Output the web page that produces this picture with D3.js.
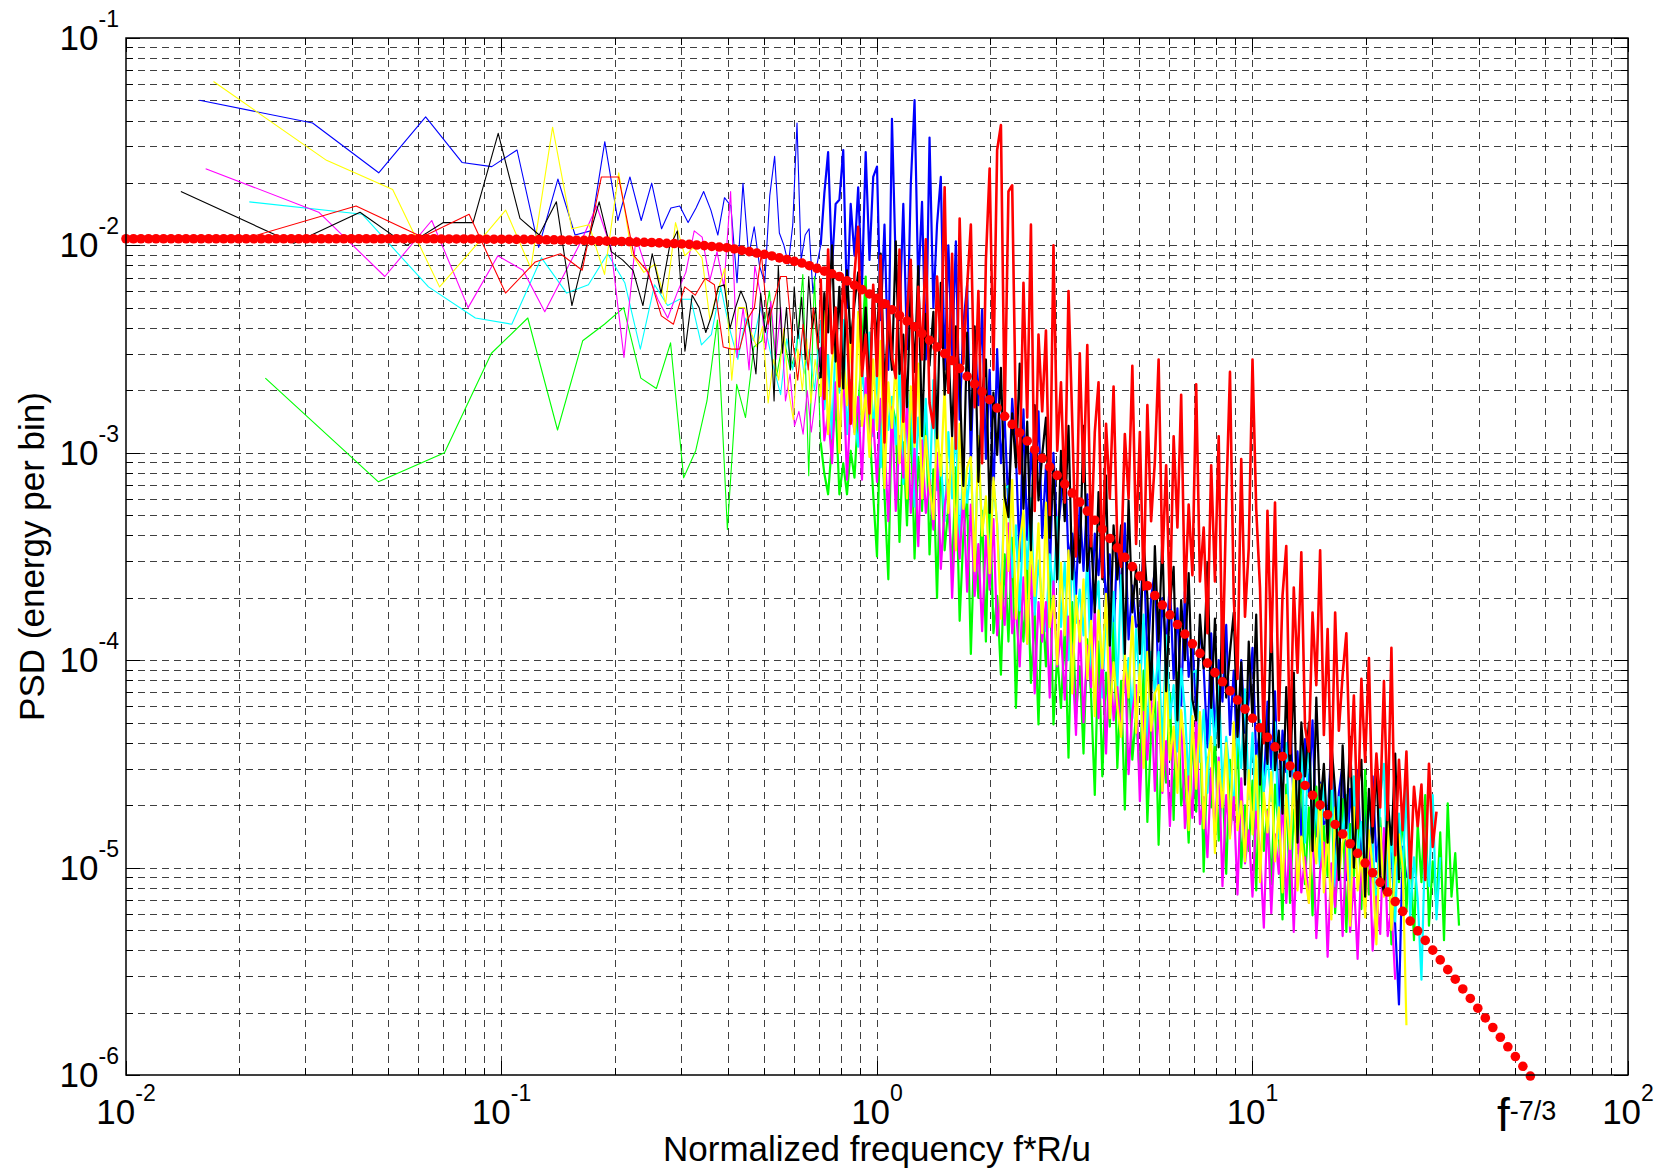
<!DOCTYPE html>
<html>
<head>
<meta charset="utf-8">
<script src="https://cdn.jsdelivr.net/npm/d3@7"></script>
<style>
body { margin: 0; background: #fff; }
text { font-family: 'Liberation Sans', Arial, Helvetica, sans-serif; fill: #000; }
</style>
</head>
<body>
<div id="chart"></div>
<script>
/* Tick exponents (labels are 10^n) */
var xTickExp = [-2, -1, 0, 1, 2];
var yTickExp = [-6, -5, -4, -3, -2, -1];

/* Low frequency bins of each trace: [frequency, log10(PSD)] */
var blueLow = [[0.0157,-1.30],[0.0314,-1.41],[0.0471,-1.65],[0.0628,-1.38],[0.0785,-1.60],[0.0942,-1.62],[0.110,-1.54],[0.1256,-2.01],[0.1413,-1.68],[0.157,-1.95],[0.1727,-1.93],[0.1884,-1.50],[0.2041,-1.88],[0.2198,-1.67],[0.2355,-1.88],[0.2512,-1.70],[0.2669,-1.92],[0.2826,-1.82],[0.2983,-1.81],[0.314,-1.89],[0.3297,-1.82],[0.3454,-1.74],[0.3611,-1.83],[0.3768,-1.95],[0.3925,-1.77],[0.4082,-1.81],[0.4239,-2.18],[0.4396,-1.70],[0.4553,-2.05],[0.471,-1.91],[0.4867,-2.10],[0.5024,-2.18],[0.5181,-1.76],[0.5338,-1.57],[0.5495,-1.94],[0.5652,-2.00],[0.5809,-2.09],[0.5966,-1.90],[0.6123,-1.41],[0.628,-2.07],[0.6437,-1.95],[0.6594,-1.92],[0.6751,-2.23],[0.6908,-2.10]];
var redLow = [[0.0205,-1.97],[0.041,-1.81],[0.0615,-1.96],[0.082,-1.85],[0.1025,-2.23],[0.123,-2.08],[0.1435,-2.04],[0.164,-2.12],[0.1845,-1.67],[0.205,-1.67],[0.2255,-2.05],[0.246,-2.13],[0.2665,-2.34],[0.287,-2.38],[0.3075,-2.20],[0.328,-2.24],[0.3485,-2.16],[0.369,-2.19],[0.3895,-2.49],[0.41,-2.50],[0.4305,-2.50],[0.451,-2.36],[0.4715,-2.30],[0.492,-2.04],[0.5125,-2.38],[0.533,-2.26],[0.5535,-2.15],[0.574,-2.15],[0.5945,-2.44],[0.615,-2.65],[0.6355,-2.38],[0.656,-2.60],[0.6765,-2.30],[0.697,-2.50]];
var blackLow = [[0.014,-1.74],[0.028,-1.99],[0.042,-1.84],[0.056,-2.00],[0.07,-1.89],[0.084,-1.89],[0.098,-1.46],[0.112,-1.87],[0.126,-1.95],[0.14,-1.79],[0.154,-2.29],[0.168,-2.01],[0.182,-1.79],[0.196,-2.03],[0.21,-2.07],[0.224,-2.12],[0.238,-2.29],[0.252,-2.04],[0.266,-2.23],[0.28,-2.01],[0.294,-1.93],[0.308,-2.51],[0.322,-2.24],[0.336,-2.30],[0.35,-2.42],[0.364,-2.33],[0.378,-2.20],[0.392,-2.19],[0.406,-2.40],[0.42,-2.30],[0.434,-2.22],[0.448,-2.28],[0.462,-2.45],[0.476,-2.62],[0.49,-2.23],[0.504,-2.42],[0.518,-2.30],[0.532,-2.75],[0.546,-2.10],[0.56,-2.52],[0.574,-2.30],[0.588,-2.60],[0.602,-2.20],[0.616,-2.45],[0.63,-2.25],[0.644,-2.55],[0.658,-2.15],[0.672,-2.40],[0.686,-2.30]];
var yellowLow = [[0.0171,-1.21],[0.0342,-1.59],[0.0513,-1.73],[0.0684,-2.20],[0.0855,-2.00],[0.1026,-1.83],[0.1197,-2.11],[0.1368,-1.43],[0.1539,-1.92],[0.171,-1.90],[0.1881,-2.14],[0.2052,-1.65],[0.2223,-2.04],[0.2394,-2.13],[0.2565,-2.09],[0.2736,-2.28],[0.2907,-1.89],[0.3078,-2.05],[0.3249,-2.01],[0.342,-2.06],[0.3591,-2.36],[0.3762,-2.22],[0.3933,-2.11],[0.4104,-2.65],[0.4275,-2.30],[0.4446,-2.30],[0.4617,-2.42],[0.4788,-2.49],[0.4959,-2.39],[0.513,-2.76],[0.5301,-2.55],[0.5472,-2.65],[0.5643,-2.40],[0.5814,-2.70],[0.5985,-2.84],[0.6156,-2.50],[0.6327,-2.70],[0.6498,-2.45],[0.6669,-2.76],[0.684,-2.55]];
var magentaLow = [[0.0163,-1.63],[0.0326,-1.84],[0.0489,-2.15],[0.0652,-1.88],[0.0815,-2.30],[0.0978,-2.05],[0.1141,-2.12],[0.1304,-2.32],[0.1467,-2.14],[0.163,-1.98],[0.1793,-1.81],[0.1956,-2.01],[0.2119,-2.54],[0.2282,-1.96],[0.2445,-2.13],[0.2608,-2.26],[0.2771,-2.35],[0.2934,-2.23],[0.3097,-2.13],[0.326,-1.93],[0.3423,-1.96],[0.3586,-2.17],[0.3749,-2.03],[0.3912,-2.20],[0.4075,-1.74],[0.4238,-2.54],[0.4401,-2.30],[0.4564,-2.60],[0.4727,-2.10],[0.489,-2.23],[0.5053,-2.50],[0.5216,-2.27],[0.5379,-2.55],[0.5542,-2.30],[0.5705,-2.75],[0.5868,-2.62],[0.6031,-2.87],[0.6194,-2.80],[0.6357,-2.91],[0.652,-2.70],[0.6683,-2.90],[0.6846,-2.75]];
var cyanLow = [[0.0213,-1.79],[0.0426,-1.85],[0.0639,-2.20],[0.0852,-2.35],[0.1065,-2.38],[0.1278,-2.06],[0.1491,-2.23],[0.1704,-2.19],[0.1917,-2.04],[0.213,-2.18],[0.2343,-2.50],[0.2556,-2.19],[0.2769,-2.29],[0.2982,-2.26],[0.3195,-2.26],[0.3408,-2.48],[0.3621,-2.43],[0.3834,-2.20],[0.4047,-2.40],[0.426,-2.55],[0.4473,-2.35],[0.4686,-2.46],[0.4899,-2.30],[0.5112,-2.45],[0.5325,-2.60],[0.5538,-2.72],[0.5751,-2.45],[0.5964,-2.60],[0.6177,-2.40],[0.639,-2.62],[0.6603,-2.50],[0.6816,-2.70]];
var greenLow = [[0.0235,-2.64],[0.047,-3.14],[0.0705,-3.00],[0.094,-2.52],[0.1175,-2.35],[0.141,-2.89],[0.1645,-2.46],[0.188,-2.38],[0.2115,-2.30],[0.235,-2.64],[0.2585,-2.69],[0.282,-2.47],[0.3055,-3.12],[0.329,-2.99],[0.3525,-2.75],[0.376,-2.36],[0.3995,-3.37],[0.423,-2.67],[0.4465,-2.83],[0.47,-2.49],[0.4935,-2.46],[0.517,-2.22],[0.5405,-2.63],[0.564,-2.44],[0.5875,-2.60],[0.611,-2.50],[0.6345,-2.14],[0.658,-3.11],[0.6815,-2.15]];

/* Higher frequencies, sampled on a shared frequency list */
var hiFreq = [0.708,0.724,0.741,0.759,0.776,0.794,0.813,0.832,0.851,0.871,0.891,0.912,0.933,0.955,0.977,
1,1.023,1.047,1.072,1.096,1.122,1.148,1.175,1.202,1.230,1.259,1.288,1.318,1.349,1.380,1.413,1.445,1.479,1.514,1.549,1.585,1.622,1.660,1.698,1.738,1.778,1.820,1.862,1.905,1.950,1.995,2.042,2.089,2.138,2.188,2.239,2.291,2.344,2.399,2.455,2.512,2.570,2.630,2.692,2.754,2.818,2.884,2.951,3.020,3.090,3.162,3.236,3.311,3.388,3.467,3.548,3.631,3.715,3.802,3.890,3.981,4.074,4.169,4.266,4.365,4.467,4.571,4.677,4.786,4.898,5.012,5.129,5.248,5.370,5.495,5.623,5.754,5.888,6.026,6.166,6.310,6.457,6.607,6.761,6.918,7.079,7.244,7.413,7.586,7.762,7.943,8.128,8.318,8.511,8.710,8.913,9.120,9.333,9.550,9.772,
10,10.23,10.47,10.72,10.96,11.22,11.48,11.75,12.02,12.30,12.59,12.88,13.18,13.49,13.80,14.13,14.45,14.79,15.14,15.49,15.85,16.22,16.60,16.98,17.38,17.78,18.20,18.62,19.05,19.50,19.95,20.42,20.89,21.38,21.88,22.39,22.91,23.44,23.99,24.55,25.12,25.70,26.30,26.92,27.54,28.18,28.84,29.51,30.20,30.90,31.62,32.36,33.11,33.88,34.67,35.48];

/* log10(PSD) of each trace on hiFreq */
var blueHigh = [-2.00,-1.75,-1.55,-2.10,-1.80,-1.78,-1.54,-2.30,-1.80,-2.05,-1.72,-2.20,-1.55,-2.07,-1.67,
-1.62,-2.36,-1.90,-2.60,-1.39,-2.10,-2.36,-1.80,-2.50,-1.71,
-1.30,-2.20,-1.79,-2.55,-1.48,-2.30,-1.90,-1.67,-2.60,-2.00,
-2.53,-1.98,-2.84,-2.38,-2.19,-3.05,-2.41,-2.77,-2.31,-3.03,
-2.60,-3.23,-2.50,-3.05,-2.84,-3.27,-2.74,-3.01,-3.52,-2.79,
-3.42,-2.99,-3.22,-2.80,-3.41,-3.06,-3.60,-3.00,-3.41,-3.23,
-2.99,-3.52,-3.39,-3.68,-3.25,-3.57,-3.20,-3.82,-3.39,-3.59,
-3.31,-3.75,-3.49,-3.90,-3.43,-3.69,-3.34,-3.90,-3.64,-3.84,
-3.82,-3.45,-4.01,-3.70,-3.57,-4.13,-3.70,-3.93,-3.62,-4.09,
-3.75,-4.22,-3.67,-4.08,-3.92,-4.24,-3.84,-4.04,-4.42,-3.87,
-4.37,-4.00,-4.20,-3.83,-4.36,-4.05,-4.52,-4.00,-4.35,-4.19,
-3.94,-4.47,-4.34,-4.63,-4.20,-4.52,-4.15,-4.77,-4.34,-4.54,
-4.26,-4.70,-4.44,-4.85,-4.38,-4.64,-4.29,-4.85,-4.59,-4.79,
-4.77,-4.40,-4.95,-4.64,-4.50,-5.06,-4.62,-4.85,-4.53,-5.00,
-4.65,-5.12,-4.56,-4.97,-4.80,-5.12,-4.71,-4.91,-5.28,-5.66,
-4.90,-5.05];
var redHigh = [-2.16,-2.74,-2.02,-2.52,-2.30,-2.68,-2.16,-2.39,-2.86,-2.14,-1.91,-2.63,-2.43,-2.81,-2.19,
-2.63,-2.05,-2.95,-2.27,-2.54,-2.64,-2.02,-2.85,-2.33,-2.07,
-2.95,-2.20,-2.55,-1.97,-2.76,-2.88,-2.15,-2.49,-1.72,-2.71,
-2.04,-2.98,-1.87,-2.57,-2.20,-1.90,-2.78,-2.22,-3.05,-2.07,
-1.63,-2.60,-1.54,-1.42,-2.83,-1.74,-1.71,-2.86,-3.10,-2.18,
-2.83,-1.90,-3.28,-2.43,-2.80,-2.41,-3.30,-2.00,-2.99,-2.66,
-3.24,-2.22,-2.85,-3.50,-2.52,-3.14,-2.48,-3.45,-2.90,-2.66,
-3.60,-2.86,-3.22,-2.68,-3.44,-3.55,-2.91,-3.22,-2.58,-3.44,
-2.90,-3.66,-2.77,-3.33,-3.04,-2.55,-3.53,-3.06,-3.75,-2.92,
-3.36,-2.72,-3.72,-3.25,-3.59,-2.67,-3.62,-3.36,-3.87,-3.06,
-3.62,-2.92,-4.06,-3.24,-2.61,-3.70,-4.09,-3.03,-3.79,-3.46,
-2.55,-3.27,-3.65,-4.40,-3.28,-3.96,-3.24,-4.29,-3.69,-3.45,
-4.45,-3.65,-4.06,-3.48,-4.32,-4.44,-3.77,-4.12,-3.47,-4.36,
-3.85,-4.62,-3.77,-4.34,-4.07,-3.87,-4.56,-4.17,-4.81,-4.09,
-4.49,-3.99,-4.80,-4.45,-4.71,-4.10,-4.77,-3.94,-4.94,-4.48,
-4.82,-4.44,-5.05,-4.61,-4.80,-4.60,-5.06,-4.50,-4.90,-4.73];
var blackHigh = [-2.64,-2.23,-2.42,-2.00,-2.56,-2.20,-2.69,-2.12,-2.47,-2.28,-2.13,-2.58,-2.30,-2.72,-2.21,
-2.47,-2.04,-2.69,-2.37,-2.60,-1.98,-2.62,-2.43,-2.78,-2.20,
-2.61,-2.10,-2.92,-2.33,-2.58,-2.32,-2.93,-2.18,-2.72,-2.49,
-2.92,-2.39,-2.65,-3.16,-2.42,-2.89,-2.39,-3.14,-2.72,-2.55,
-3.29,-2.71,-3.01,-2.59,-3.21,-3.31,-2.81,-3.07,-2.57,-3.27,
-2.85,-3.47,-2.77,-3.23,-3.01,-2.83,-3.41,-3.07,-3.61,-2.99,
-3.33,-2.87,-3.61,-3.27,-3.53,-2.87,-3.57,-3.39,-3.77,-3.19,
-3.61,-3.11,-3.93,-3.35,-3.61,-3.35,-3.97,-3.23,-3.77,-3.55,
-3.97,-3.43,-3.69,-4.19,-3.45,-3.91,-3.41,-4.15,-3.73,-3.55,
-4.29,-3.71,-4.00,-3.58,-4.19,-4.29,-3.78,-4.04,-3.53,-4.23,
-3.80,-4.42,-3.72,-4.18,-3.96,-3.77,-4.37,-4.01,-4.60,-3.91,
-4.29,-3.78,-4.60,-4.22,-4.50,-3.78,-4.53,-4.34,-4.74,-4.13,
-4.56,-4.06,-4.88,-4.30,-4.56,-4.30,-4.92,-4.18,-4.72,-4.50,
-4.88,-4.40,-4.63,-5.06,-4.41,-4.81,-4.37,-5.00,-4.64,-4.48,
-5.14,-4.62,-4.88,-4.50,-5.04,-5.12,-4.67,-4.89,-4.45,-5.06];
var yellowHigh = [-2.73,-2.32,-2.91,-2.57,-2.42,-3.00,-2.53,-2.77,-2.42,-2.91,-2.32,-2.87,-2.72,-3.02,-2.55,
-2.89,-2.46,-3.17,-2.66,-2.88,-2.55,-3.05,-2.76,-3.22,-2.68,
-2.97,-2.57,-3.22,-2.92,-3.16,-3.32,-2.88,-3.11,-2.68,-3.29,
-2.92,-3.47,-2.86,-3.27,-3.07,-3.02,-3.57,-2.92,-3.40,-3.21,
-3.58,-3.12,-3.35,-3.80,-3.15,-3.57,-3.13,-3.80,-3.43,-3.28,
-3.92,-3.43,-3.69,-3.34,-3.87,-3.24,-3.84,-3.69,-4.02,-3.53,
-3.88,-3.47,-4.16,-3.69,-3.91,-3.61,-4.09,-3.81,-4.27,-3.76,
-4.04,-3.68,-4.28,-4.01,-4.22,-4.37,-3.97,-4.18,-3.79,-4.35,
-4.02,-4.52,-3.96,-4.34,-4.16,-4.12,-4.63,-4.04,-4.48,-4.32,
-4.64,-4.24,-4.44,-4.82,-4.27,-4.62,-4.25,-4.81,-4.50,-4.37,
-4.93,-4.49,-4.71,-4.40,-4.86,-4.30,-4.82,-4.68,-4.97,-4.53,
-4.84,-4.46,-5.07,-4.64,-4.83,-4.54,-4.97,-4.71,-5.12,-4.65,
-4.91,-4.56,-5.11,-4.85,-5.04,-5.17,-4.79,-4.98,-4.60,-5.12,
-4.80,-5.25,-4.71,-5.05,-4.88,-4.83,-5.28,-4.71,-5.11,-4.94,
-5.24,-4.82,-5.01,-5.37,-4.81,-5.14,-4.76,-5.30,-4.99,-4.84,
-5.00,-5.76];
var magentaHigh = [-2.49,-2.94,-2.81,-3.05,-2.66,-2.93,-2.60,-3.13,-2.75,-2.90,-2.73,-3.13,-2.64,-2.99,-2.84,
-3.14,-2.74,-2.95,-3.33,-2.78,-3.28,-2.92,-3.12,-2.75,-3.29,
-2.98,-3.45,-2.94,-3.29,-3.13,-3.37,-3.00,-3.56,-3.26,-3.13,
-3.70,-3.27,-3.51,-3.20,-3.67,-3.25,-3.69,-3.44,-3.86,-3.40,
-3.66,-3.32,-3.88,-3.63,-3.83,-3.34,-3.87,-3.74,-4.03,-3.60,
-3.92,-3.54,-4.16,-3.72,-3.91,-3.72,-4.18,-3.62,-4.03,-3.86,
-4.19,-3.79,-3.98,-4.36,-3.81,-4.30,-3.93,-4.13,-3.75,-4.28,
-3.98,-4.45,-3.93,-4.29,-4.13,-4.36,-3.99,-4.55,-4.25,-4.12,
-4.68,-4.25,-4.48,-4.16,-4.63,-4.20,-4.64,-4.39,-4.80,-4.34,
-4.59,-4.25,-4.81,-4.56,-4.76,-4.27,-4.79,-4.66,-4.95,-4.52,
-4.84,-4.47,-5.09,-4.65,-4.85,-4.66,-5.13,-4.57,-4.98,-4.82,
-5.14,-4.73,-4.92,-5.29,-4.73,-5.22,-4.84,-5.03,-4.65,-5.17,
-4.85,-5.31,-4.78,-5.12,-4.95,-5.17,-4.79,-5.34,-5.02,-4.88,
-5.43,-4.98,-5.19,-4.89,-5.33,-4.88,-5.31,-5.05,-5.44,-4.97,
-5.21,-4.85,-5.40,-5.14,-5.32,-4.81,-5.33,-5.19,-5.54];
var cyanHigh = [-2.36,-2.79,-2.53,-2.93,-2.46,-2.71,-2.36,-2.91,-2.65,-2.84,-2.97,-2.59,-2.78,-2.42,-2.92,
-2.60,-3.07,-2.55,-2.89,-2.73,-2.96,-2.59,-3.15,-2.83,-2.70,
-3.26,-2.83,-3.05,-2.74,-3.20,-2.65,-3.18,-3.04,-3.33,-2.90,
-3.22,-2.85,-3.47,-3.04,-3.24,-3.05,-3.52,-2.97,-3.38,-3.22,
-3.54,-3.14,-3.34,-3.72,-3.17,-3.16,-3.60,-3.35,-3.76,-3.30,
-3.56,-3.22,-3.78,-3.52,-3.72,-3.86,-3.49,-3.69,-3.31,-3.84,
-3.53,-4.00,-3.47,-3.82,-3.66,-3.88,-3.51,-4.07,-3.75,-3.62,
-4.18,-3.75,-3.98,-3.67,-4.14,-3.59,-4.12,-3.99,-4.28,-3.85,
-4.15,-3.78,-4.39,-3.96,-4.16,-3.96,-4.43,-3.88,-4.28,-4.12,
-4.44,-4.04,-4.24,-4.61,-4.06,-4.05,-4.49,-4.24,-4.64,-4.18,
-4.41,-4.07,-4.62,-4.37,-4.56,-4.70,-4.32,-4.52,-4.14,-4.67,
-4.35,-4.81,-4.29,-4.63,-4.46,-4.68,-4.30,-4.86,-4.54,-4.40,
-4.96,-4.52,-4.74,-4.42,-4.88,-4.33,-4.85,-4.71,-4.99,-4.55,
-4.87,-4.49,-5.09,-4.66,-4.85,-4.65,-5.11,-4.56,-4.95,-4.78,
-5.11,-4.66,-4.87,-5.26,-4.66,-4.50,-5.10,-4.82,-5.26,-4.74,
-5.02,-4.61,-5.24,-4.95,-5.15,-5.54,-4.86,-5.09,-4.65,-5.25,-4.95];
var greenHigh = [-2.95,-3.10,-3.20,-2.95,-2.76,-3.20,-3.05,-3.20,-2.99,-3.12,-2.80,-2.50,-2.15,-2.87,-3.20,
-3.50,-2.78,-3.20,-3.61,-2.76,-2.85,-3.43,-2.95,-3.35,-2.81,
-3.51,-3.02,-3.28,-2.79,-3.49,-3.08,-3.70,-3.01,-3.47,-3.26,
-3.56,-3.07,-3.81,-3.40,-3.22,-3.97,-3.39,-3.70,-3.28,-3.91,
-3.17,-3.87,-3.69,-4.07,-3.49,-3.91,-3.41,-4.23,-3.65,-3.91,
-3.53,-4.11,-3.77,-4.31,-3.69,-4.03,-3.57,-4.31,-3.97,-4.23,
-3.85,-4.47,-3.72,-4.26,-4.03,-4.45,-3.90,-4.16,-4.65,-3.91,
-4.56,-4.06,-4.32,-3.82,-4.52,-4.10,-4.72,-4.02,-4.48,-4.26,
-4.56,-4.05,-4.78,-4.35,-4.16,-4.89,-4.30,-4.59,-4.16,-4.77,
-4.06,-4.70,-4.53,-4.88,-4.34,-4.73,-4.26,-5.02,-4.47,-4.71,
-4.37,-4.87,-4.57,-5.03,-4.48,-4.77,-4.36,-5.00,-4.70,-4.92,
-4.58,-5.11,-4.44,-4.92,-4.72,-5.08,-4.60,-4.82,-5.25,-4.60,
-5.17,-4.72,-4.93,-4.49,-5.08,-4.71,-5.23,-4.61,-5.00,-4.80,
-5.04,-4.59,-5.22,-4.83,-4.67,-5.31,-4.79,-5.04,-4.66,-5.20,
-4.53,-5.13,-4.96,-5.28,-4.76,-5.12,-4.66,-5.37,-4.85,-5.07,
-4.72,-5.21,-4.90,-5.35,-4.79,-5.07,-4.65,-5.28,-4.97,-5.18,
-4.83,-5.35,-4.69,-5.14,-4.93,-5.28];

/* Model spectrum (red dots) */
var modelFreq = [0.01,0.01047,0.01096,0.01148,0.01202,0.01259,0.01318,0.0138,0.01445,0.01514,0.01585,0.0166,0.01738,0.0182,0.01905,0.01995,0.02089,0.02188,0.02291,0.02399,0.02512,0.0263,0.02754,0.02884,0.0302,0.03162,0.03311,0.03467,0.03631,0.03802,0.03981,0.04169,0.04365,0.04571,0.04786,0.05012,0.05248,0.05495,0.05754,0.06026,0.0631,0.06607,0.06918,0.07244,0.07586,0.07943,0.08318,0.0871,0.0912,0.0955,
0.1,0.1047,0.1096,0.1148,0.1202,0.1259,0.1318,0.138,0.1445,0.1514,0.1585,0.166,0.1738,0.182,0.1905,0.1995,0.2089,0.2188,0.2291,0.2399,0.2512,0.263,0.2754,0.2884,0.302,0.3162,0.3311,0.3467,0.3631,0.3802,0.3981,0.4169,0.4365,0.4571,0.4786,0.5012,0.5248,0.5495,0.5754,0.6026,0.631,0.6607,0.6918,0.7244,0.7586,0.7943,0.8318,0.871,0.912,0.955,
1,1.047,1.096,1.148,1.202,1.259,1.318,1.38,1.445,1.514,1.585,1.66,1.738,1.82,1.905,1.995,2.089,2.188,2.291,2.399,2.512,2.63,2.754,2.884,3.02,3.162,3.311,3.467,3.631,3.802,3.981,4.169,4.365,4.571,4.786,5.012,5.248,5.495,5.754,6.026,6.31,6.607,6.918,7.244,7.586,7.943,8.318,8.71,9.12,9.55,
10,10.47,10.96,11.48,12.02,12.59,13.18,13.8,14.45,15.14,15.85,16.6,17.38,18.2,19.05,19.95,20.89,21.88,22.91,23.99,25.12,26.3,27.54,28.84,30.2,31.62,33.11,34.67,36.31,38.02,39.81,41.69,43.65,45.71,47.86,50.12,52.48,54.95];
var modelLogPsd = [-1.968,-1.968,-1.968,-1.968,-1.968,-1.968,-1.968,-1.968,-1.968,-1.968,
-1.968,-1.968,-1.968,-1.968,-1.968,-1.968,-1.968,-1.968,-1.968,-1.968,
-1.968,-1.968,-1.968,-1.968,-1.968,-1.968,-1.968,-1.968,-1.968,-1.968,
-1.968,-1.968,-1.968,-1.968,-1.968,-1.968,-1.968,-1.968,-1.968,-1.968,
-1.968,-1.968,-1.969,-1.969,-1.969,-1.969,-1.969,-1.969,-1.970,-1.970,
-1.970,-1.970,-1.971,-1.971,-1.972,-1.972,-1.973,-1.973,-1.974,-1.974,
-1.975,-1.976,-1.977,-1.978,-1.979,-1.980,-1.981,-1.982,-1.984,-1.985,
-1.986,-1.988,-1.990,-1.991,-1.993,-1.995,-1.998,-2.001,-2.005,-2.008,
-2.011,-2.017,-2.024,-2.030,-2.037,-2.043,-2.051,-2.060,-2.068,-2.077,
-2.085,-2.098,-2.111,-2.124,-2.137,-2.150,-2.171,-2.192,-2.213,-2.234,
-2.255,-2.282,-2.310,-2.337,-2.365,-2.392,-2.425,-2.457,-2.490,-2.522,
-2.555,-2.593,-2.631,-2.668,-2.706,-2.744,-2.784,-2.824,-2.863,-2.903,
-2.943,-2.985,-3.026,-3.068,-3.109,-3.151,-3.194,-3.238,-3.281,-3.325,
-3.368,-3.413,-3.458,-3.504,-3.549,-3.594,-3.641,-3.688,-3.734,-3.781,
-3.828,-3.874,-3.921,-3.967,-4.014,-4.060,-4.104,-4.148,-4.192,-4.236,
-4.280,-4.326,-4.372,-4.418,-4.464,-4.510,-4.557,-4.604,-4.651,-4.698,
-4.745,-4.792,-4.838,-4.885,-4.931,-4.978,-5.025,-5.071,-5.118,-5.164,
-5.211,-5.258,-5.305,-5.351,-5.398,-5.445,-5.492,-5.538,-5.585,-5.631,
-5.678,-5.725,-5.771,-5.818,-5.864,-5.911,-5.958,-6.005];

/* Traces in drawing order */
var traces = [
	{ name: 'blue', color: '#0000ff', low: blueLow, high: blueHigh, weight: 2.2 },
	{ name: 'green', color: '#00ff00', low: greenLow, high: greenHigh, weight: 2.2 },
	{ name: 'cyan', color: '#00ffff', low: cyanLow, high: cyanHigh, weight: 2.2 },
	{ name: 'magenta', color: '#ff00ff', low: magentaLow, high: magentaHigh, weight: 2.2 },
	{ name: 'yellow', color: '#ffff00', low: yellowLow, high: yellowHigh, weight: 2.2 },
	{ name: 'black', color: '#000000', low: blackLow, high: blackHigh, weight: 2.2 },
	{ name: 'red', color: '#ff0000', low: redLow, high: redHigh, weight: 2.6 }
];

var width = 1662;
var height = 1175;
var plot = { left: 126, right: 1628, top: 38, bottom: 1075 };

/* Scales */
var xScale = d3.scaleLog().domain([1e-2, 1e2]).range([plot.left, plot.right]);
var yScale = d3.scaleLog().domain([1e-6, 1e-1]).range([plot.bottom, plot.top]);

var svg = d3
	.select('#chart')
	.append('svg')
	.attr('width', width)
	.attr('height', height)
	.style('display', 'block')
	.style('background', '#fff');

svg
	.append('clipPath')
	.attr('id', 'plot-clip')
	.append('rect')
	.attr('x', plot.left)
	.attr('y', plot.top)
	.attr('width', plot.right - plot.left)
	.attr('height', plot.bottom - plot.top);

/* Grid (all 1..9 ticks of every decade) */
var xGrid = xScale.ticks().filter(v => v > 1e-2 * 1.001 && v < 1e2 * 0.999);
var yGrid = yScale.ticks().filter(v => v > 1e-6 * 1.001 && v < 1e-1 * 0.999);

var grid = svg.append('g').attr('class', 'grid')
	.attr('stroke', '#000')
	.attr('stroke-opacity', 0.75)
	.attr('stroke-width', 1)
	.attr('stroke-dasharray', '7,5')
	.attr('shape-rendering', 'crispEdges');

grid.selectAll('.gx')
	.data(xGrid)
	.enter()
	.append('line')
	.attr('x1', d => Math.round(xScale(d)) + 0.5)
	.attr('x2', d => Math.round(xScale(d)) + 0.5)
	.attr('y1', plot.bottom)
	.attr('y2', plot.top);

grid.selectAll('.gy')
	.data(yGrid)
	.enter()
	.append('line')
	.attr('y1', d => Math.round(yScale(d)) + 0.5)
	.attr('y2', d => Math.round(yScale(d)) + 0.5)
	.attr('x1', plot.left)
	.attr('x2', plot.right);

/* Traces: thin lines for the sparse low bins, heavier for the dense part */
var line = d3
	.line()
	.x(d => xScale(d[0]))
	.y(d => yScale(Math.pow(10, d[1])));

var lines = svg.append('g').attr('class', 'lines').attr('clip-path', 'url(#plot-clip)');

var groups = lines
	.selectAll('.trace')
	.data(traces)
	.enter()
	.append('g')
	.attr('class', 'trace')
	.attr('fill', 'none')
	.attr('stroke', t => t.color)
	.attr('stroke-linejoin', 'round');

groups
	.append('path')
	.attr('d', t => line(t.low.concat([[hiFreq[0], t.high[0]]])))
	.attr('stroke-width', 1.1);

groups
	.append('path')
	.attr('d', t => line(t.high.map((v, i) => [hiFreq[i], v])))
	.attr('stroke-width', t => t.weight);

/* Model dots */
var modelPoints = modelFreq.map((f, i) => [f, modelLogPsd[i]]);

svg
	.append('g')
	.attr('class', 'model')
	.selectAll('circle')
	.data(modelPoints)
	.enter()
	.append('circle')
	.attr('cx', d => xScale(d[0]))
	.attr('cy', d => yScale(Math.pow(10, d[1])))
	.attr('r', 4.8)
	.attr('fill', '#ff0000');

/* Tick marks on all four sides, pointing inwards */
var ticks = svg.append('g').attr('class', 'ticks').attr('stroke', '#000').attr('stroke-width', 1);
var isMajor = v => Math.abs(Math.log10(v) - Math.round(Math.log10(v))) < 1e-6;

xScale.ticks().forEach(function(v) {
	var px = Math.round(xScale(v)) + 0.5;
	var len = isMajor(v) ? 14 : 7;
	ticks.append('line').attr('x1', px).attr('x2', px).attr('y1', plot.bottom).attr('y2', plot.bottom - len);
	ticks.append('line').attr('x1', px).attr('x2', px).attr('y1', plot.top).attr('y2', plot.top + len);
});
yScale.ticks().forEach(function(v) {
	var py = Math.round(yScale(v)) + 0.5;
	var len = isMajor(v) ? 14 : 7;
	ticks.append('line').attr('y1', py).attr('y2', py).attr('x1', plot.left).attr('x2', plot.left + len);
	ticks.append('line').attr('y1', py).attr('y2', py).attr('x1', plot.right).attr('x2', plot.right - len);
});

/* Box */
svg
	.append('rect')
	.attr('x', plot.left)
	.attr('y', plot.top)
	.attr('width', plot.right - plot.left)
	.attr('height', plot.bottom - plot.top)
	.attr('fill', 'none')
	.attr('stroke', '#000')
	.attr('stroke-width', 1.5);

/* Tick labels: 10 with a superscript exponent */
var xLabels = svg.append('g').attr('class', 'x-labels');
xTickExp.forEach(function(e) {
	var t = xLabels
		.append('text')
		.attr('x', xScale(Math.pow(10, e)))
		.attr('y', 1124)
		.attr('text-anchor', 'middle');
	t.append('tspan').attr('font-size', 35).text('10');
	t.append('tspan').attr('font-size', 23).attr('dy', -23).text(e);
});

var yLabels = svg.append('g').attr('class', 'y-labels');
yTickExp.forEach(function(e) {
	var t = yLabels
		.append('text')
		.attr('x', 119)
		.attr('y', yScale(Math.pow(10, e)) + 12)
		.attr('text-anchor', 'end');
	t.append('tspan').attr('font-size', 35).text('10');
	t.append('tspan').attr('font-size', 23).attr('dy', -23).text(e);
});

/* Axis titles */
svg
	.append('text')
	.attr('x', (plot.left + plot.right) / 2)
	.attr('y', 1161)
	.attr('text-anchor', 'middle')
	.attr('font-size', 35)
	.text('Normalized frequency f*R/u');

svg
	.append('text')
	.attr('transform', `translate(44, ${(plot.top + plot.bottom) / 2}) rotate(-90)`)
	.attr('text-anchor', 'middle')
	.attr('font-size', 35)
	.text('PSD (energy per bin)');

/* Slope annotation */
var slope = svg.append('text').attr('x', 1497).attr('y', 1131);
slope.append('tspan').attr('font-size', 46).text('f');
slope.append('tspan').attr('font-size', 27).attr('dy', -11).text('-7/3');
</script>
</body>
</html>
